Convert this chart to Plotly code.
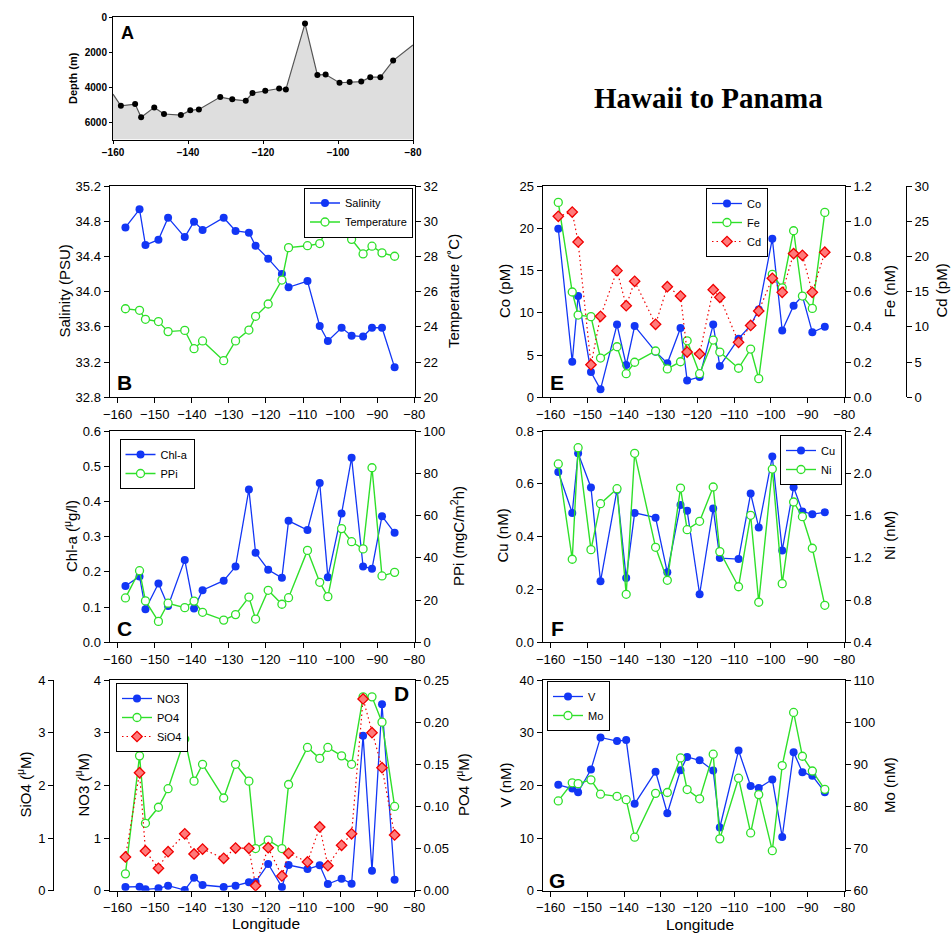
import plotly.graph_objects as go

W, H = 951, 934

# ---------------- data ----------------
lon = [-157.9, -154.1, -152.5, -149.0, -146.4, -141.9, -139.4, -137.1, -131.4, -128.2,
       -124.6, -122.8, -119.4, -115.7, -113.9, -108.8, -105.5, -103.3, -99.6, -96.9,
       -93.8, -91.4, -88.7, -85.3]
depth = [5070, 4970, 5730, 5160, 5540, 5600, 5330, 5280, 4570, 4700, 4780, 4340, 4210, 4080,
         4130, 360, 3300, 3280, 3750, 3710, 3680, 3430, 3430, 2480]
bathy_edge_lon = [-160, -80]
bathy_edge_depth = [4400, 1580]
depth_floor = 7000

salinity = [34.73, 34.935, 34.53, 34.59, 34.84, 34.62, 34.795, 34.70, 34.84, 34.69, 34.67, 34.52,
            34.375, 34.20, 34.05, 34.12, 33.61, 33.44, 33.59, 33.50, 33.49, 33.59, 33.59, 33.14]
temperature = [25.03, 24.94, 24.43, 24.30, 23.73, 23.80, 22.76, 23.20, 22.08, 23.20, 23.82, 24.60,
               25.30, 26.66, 28.50, 28.61, 28.73, 29.69, 29.45, 28.97, 28.14, 28.58, 28.20, 28.01]
chla = [0.160, 0.187, 0.094, 0.167, 0.103, 0.234, 0.096, 0.148, 0.175, 0.215, 0.434, 0.254,
        0.206, 0.183, 0.345, 0.319, 0.452, 0.185, 0.366, 0.524, 0.215, 0.209, 0.358, 0.311]
ppi = [21.0, 33.9, 19.6, 9.9, 18.5, 16.4, 19.5, 14.2, 10.5, 13.1, 21.4, 11.0, 24.6, 18.0, 21.1,
       43.5, 28.4, 21.6, 53.8, 47.6, 44.2, 82.6, 31.4, 33.1]
no3 = [0.07, 0.076, 0.026, 0.045, 0.095, 0.013, 0.247, 0.108, 0.07, 0.095, 0.16, 0.165, 0.507,
       0.07, 0.488, 0.412, 0.482, 0.127, 0.228, 0.133, 2.94, 0.38, 3.54, 0.209]
po4 = [0.020, 0.160, 0.080, 0.099, 0.121, 0.180, 0.130, 0.150, 0.110, 0.150, 0.130, 0.050, 0.060,
       0.050, 0.126, 0.170, 0.157, 0.170, 0.160, 0.150, 0.230, 0.230, 0.200, 0.100]
sio4 = [0.64, 2.24, 0.754, 0.425, 0.74, 1.08, 0.697, 0.79, 0.615, 0.81, 0.805, 0.095, 0.816, 0.28,
        0.71, 0.545, 1.21, 0.475, 0.862, 1.08, 3.64, 3.0, 2.335, 1.058]
co = [19.95, 4.2, 11.98, 3.0, 0.94, 8.6, 3.82, 8.43, 5.4, 4.02, 8.2, 2.0, 2.4, 8.6, 3.7, 6.94,
      8.5, 10.4, 18.77, 7.9, 10.84, 11.98, 7.69, 8.35]
fe = [1.107, 0.598, 0.467, 0.458, 0.223, 0.287, 0.134, 0.199, 0.263, 0.161, 0.202, 0.321, 0.134,
      0.325, 0.257, 0.165, 0.274, 0.106, 0.698, 0.622, 0.946, 0.575, 0.505, 1.05]
cd = [25.7, 26.3, 22.05, 4.63, 11.5, 17.98, 13.0, 16.47, 10.36, 15.7, 14.38, 6.43, 6.15, 15.28,
      14.2, 7.8, 10.2, 12.25, 16.9, 14.9, 20.4, 20.16, 14.9, 20.6]
cu = [0.645, 0.49, 0.716, 0.586, 0.231, 0.577, 0.243, 0.49, 0.472, 0.265, 0.52, 0.498, 0.182,
      0.507, 0.319, 0.315, 0.563, 0.435, 0.703, 0.348, 0.587, 0.495, 0.485, 0.492]
ni = [2.088, 1.186, 2.242, 1.277, 1.712, 1.854, 0.854, 2.189, 1.299, 0.987, 1.86, 1.466, 1.545,
      1.87, 1.258, 0.926, 1.602, 0.779, 2.04, 0.955, 1.728, 1.589, 1.29, 0.75]
v = [20.1, 19.4, 18.7, 23.0, 29.1, 28.4, 28.6, 16.5, 22.6, 14.7, 22.85, 25.4, 24.75, 22.8, 12.0,
     26.6, 19.9, 19.5, 21.1, 10.2, 26.3, 22.5, 21.8, 18.7]
mo = [81.3, 85.6, 85.4, 86.3, 82.9, 82.4, 81.6, 72.7, 83.1, 83.3, 91.5, 84.0, 81.8, 92.4, 72.3,
      86.7, 73.7, 82.8, 69.5, 89.7, 102.3, 91.9, 88.4, 84.05]

lon_ticks = [-160, -150, -140, -130, -120, -110, -100, -90, -80]
lon_ticks_a = [-160, -140, -120, -100, -80]

# ---------------- styles ----------------
FONT = "Arial, Liberation Sans, Helvetica, sans-serif"
BLUE = "#1236f5"
GREEN = "#2fe02a"
RED = "#f00000"

def px_x(p):
    return p / W

def px_y(p):
    return 1 - p / H

def blue_tr(x, y, name, xa, ya, lg):
    return go.Scatter(x=x, y=y, name=name, xaxis=xa, yaxis=ya, legend=lg, mode="lines+markers",
                      line=dict(color=BLUE, width=1.3),
                      marker=dict(symbol="circle", size=8, color=BLUE))

def green_tr(x, y, name, xa, ya, lg):
    return go.Scatter(x=x, y=y, name=name, xaxis=xa, yaxis=ya, legend=lg, mode="lines+markers",
                      line=dict(color=GREEN, width=1.4),
                      marker=dict(symbol="circle", size=8, color="white",
                                  line=dict(color=GREEN, width=1.3)))

def red_tr(x, y, name, xa, ya, lg):
    return go.Scatter(x=x, y=y, name=name, xaxis=xa, yaxis=ya, legend=lg, mode="lines+markers",
                      line=dict(color=RED, width=1.2, dash="1.5px,3px"),
                      marker=dict(symbol="diamond", size=8, color="#ff7a7a",
                                  line=dict(color=RED, width=1.3)))

fig = go.Figure()

# Panel A bathymetry
fig.add_trace(go.Scatter(x=bathy_edge_lon, y=[depth_floor, depth_floor], xaxis="x", yaxis="y",
                         mode="lines", line=dict(width=0), showlegend=False, hoverinfo="skip"))
fig.add_trace(go.Scatter(x=[bathy_edge_lon[0]] + lon + [bathy_edge_lon[1]],
                         y=[bathy_edge_depth[0]] + depth + [bathy_edge_depth[1]],
                         xaxis="x", yaxis="y", mode="lines", fill="tonexty",
                         fillcolor="#dedede", line=dict(color="#555555", width=1.2),
                         showlegend=False))
fig.add_trace(go.Scatter(x=lon, y=depth, xaxis="x", yaxis="y", mode="markers",
                         marker=dict(color="black", size=6), showlegend=False))

# Panel B
fig.add_trace(blue_tr(lon, salinity, "Salinity", "x2", "y2", "legend"))
fig.add_trace(green_tr(lon, temperature, "Temperature", "x2", "y3", "legend"))
# Panel C
fig.add_trace(blue_tr(lon, chla, "Chl-a", "x3", "y4", "legend2"))
fig.add_trace(green_tr(lon, ppi, "PPi", "x3", "y5", "legend2"))
# Panel D
fig.add_trace(blue_tr(lon, no3, "NO3", "x4", "y6", "legend3"))
fig.add_trace(green_tr(lon, po4, "PO4", "x4", "y7", "legend3"))
fig.add_trace(red_tr(lon, sio4, "SiO4", "x4", "y8", "legend3"))
# Panel E
fig.add_trace(blue_tr(lon, co, "Co", "x5", "y9", "legend4"))
fig.add_trace(green_tr(lon, fe, "Fe", "x5", "y10", "legend4"))
fig.add_trace(red_tr(lon, cd, "Cd", "x5", "y11", "legend4"))
# Panel F
fig.add_trace(blue_tr(lon, cu, "Cu", "x6", "y12", "legend5"))
fig.add_trace(green_tr(lon, ni, "Ni", "x6", "y13", "legend5"))
# Panel G
fig.add_trace(blue_tr(lon, v, "V", "x7", "y14", "legend6"))
fig.add_trace(green_tr(lon, mo, "Mo", "x7", "y15", "legend6"))

# ---------------- axes ----------------
tickfont = dict(family=FONT, size=13, color="black")
common = dict(showline=True, linecolor="black", linewidth=1, ticks="outside", ticklen=5,
              tickwidth=1, tickcolor="black", showgrid=False, zeroline=False,
              tickfont=tickfont, automargin=False)

LX = [px_x(109.5), px_x(415)]
RX = [px_x(542.5), px_x(845)]
ROW1 = [px_y(397.3), px_y(186)]
ROW2 = [px_y(642.3), px_y(431)]
ROW3 = [px_y(890.7), px_y(680)]
XR = [-162.2, -79.8]

layout_axes = {}
# Panel A
layout_axes["xaxis"] = dict(common, domain=[px_x(113), px_x(413)], anchor="y", range=[-160, -80],
                            tickvals=lon_ticks_a, mirror=True, ticklen=3,
                            tickfont=dict(family=FONT, size=10, color="black", weight="bold"))
layout_axes["yaxis"] = dict(common, domain=[px_y(139.5), px_y(17.3)], anchor="x",
                            range=[depth_floor, 0], tickvals=[0, 2000, 4000, 6000], mirror=True,
                            ticklen=3,
                            tickfont=dict(family=FONT, size=10, color="black", weight="bold"))

def xax(dom, ydom_anchor):
    return dict(common, domain=dom, anchor=ydom_anchor, range=XR, tickvals=lon_ticks, mirror=True)

layout_axes["xaxis2"] = xax(LX, "y2")
layout_axes["xaxis3"] = xax(LX, "y4")
layout_axes["xaxis4"] = xax(LX, "y6")
layout_axes["xaxis5"] = xax(RX, "y9")
layout_axes["xaxis6"] = xax(RX, "y12")
layout_axes["xaxis7"] = xax(RX, "y14")

# B
layout_axes["yaxis2"] = dict(common, domain=ROW1, anchor="x2", range=[32.8, 35.2], dtick=0.4,
                             tickformat=".1f")
layout_axes["yaxis3"] = dict(common, overlaying="y2", anchor="x2", side="right", range=[20, 32],
                             dtick=2)
# C
layout_axes["yaxis4"] = dict(common, domain=ROW2, anchor="x3", range=[0, 0.6], dtick=0.1,
                             tickformat=".1f")
layout_axes["yaxis5"] = dict(common, overlaying="y4", anchor="x3", side="right", range=[0, 100],
                             dtick=20)
# D
layout_axes["yaxis6"] = dict(common, domain=ROW3, anchor="x4", range=[0, 4], dtick=1)
layout_axes["yaxis7"] = dict(common, overlaying="y6", anchor="x4", side="right", range=[0, 0.25],
                             dtick=0.05, tickformat=".2f")
layout_axes["yaxis8"] = dict(common, overlaying="y6", anchor="free", position=px_x(53),
                             side="left", range=[0, 4], dtick=1)
# E
layout_axes["yaxis9"] = dict(common, domain=ROW1, anchor="x5", range=[0, 25], dtick=5)
layout_axes["yaxis10"] = dict(common, overlaying="y9", anchor="x5", side="right", range=[0, 1.2],
                              dtick=0.2, tickformat=".1f")
layout_axes["yaxis11"] = dict(common, overlaying="y9", anchor="free", position=px_x(906),
                              side="right", range=[0, 30], dtick=5)
# F
layout_axes["yaxis12"] = dict(common, domain=ROW2, anchor="x6", range=[0, 0.8], dtick=0.2,
                              tickformat=".1f")
layout_axes["yaxis13"] = dict(common, overlaying="y12", anchor="x6", side="right",
                              range=[0.4, 2.4], dtick=0.4, tickformat=".1f")
# G
layout_axes["yaxis14"] = dict(common, domain=ROW3, anchor="x7", range=[0, 40], dtick=10)
layout_axes["yaxis15"] = dict(common, overlaying="y14", anchor="x7", side="right",
                              range=[60, 110], dtick=10)

fig.update_layout(**layout_axes)

# ---------------- legends ----------------
def leg(xr, yt, anchor="right"):
    return dict(x=px_x(xr), y=px_y(yt), xanchor=anchor, yanchor="top", bgcolor="white",
                bordercolor="black", borderwidth=1, font=dict(family=FONT, size=11, color="black"),
                tracegroupgap=0, itemwidth=30, traceorder="normal")

fig.update_layout(
    legend=leg(413, 187.5),
    legend2=leg(119.5, 439, "left"),
    legend3=leg(116, 683, "left"),
    legend4=leg(706, 188, "left"),
    legend5=leg(842, 435),
    legend6=leg(547, 681, "left"),
)

# ---------------- text annotations ----------------
ann = []

def txt(x, y, s, size=15, angle=0, bold=False, family=FONT):
    ann.append(dict(x=px_x(x), y=px_y(y), xref="paper", yref="paper", text=s, showarrow=False,
                    textangle=angle, xanchor="center", yanchor="middle",
                    font=dict(family=family, size=size, color="black",
                              weight="bold" if bold else "normal")))

# panel letters
txt(127, 33, "A", size=18, bold=True)
txt(125, 382, "B", size=21, bold=True)
txt(125, 628, "C", size=21, bold=True)
txt(401, 693, "D", size=21, bold=True)
txt(557, 382, "E", size=21, bold=True)
txt(557, 628, "F", size=21, bold=True)
txt(557, 880, "G", size=21, bold=True)

# axis titles
txt(73, 78, "Depth (m)", size=11, angle=-90, bold=True)
txt(63.5, 291, "Salinity (PSU)", size=15, angle=-90)
txt(453, 291, "Temperature (˚C)", size=15, angle=-90)
txt(70, 536, "Chl-a (<sup>μ</sup>g/l)", size=15, angle=-90)
txt(457, 536, "PPi (mgC/m<sup>2</sup>h)", size=15, angle=-90)
txt(23.5, 785, "SiO4 (<sup>μ</sup>M)", size=15, angle=-90)
txt(81.5, 785, "NO3 (<sup>μ</sup>M)", size=15, angle=-90)
txt(462, 785, "PO4 (<sup>μ</sup>M)", size=15, angle=-90)
txt(266, 923, "Longitude", size=15.5)
txt(504, 291, "Co (pM)", size=15, angle=-90)
txt(888.5, 291, "Fe (nM)", size=15, angle=-90)
txt(940.5, 291, "Cd (pM)", size=15, angle=-90)
txt(501.5, 536, "Cu (nM)", size=15, angle=-90)
txt(889, 536, "Ni (nM)", size=15, angle=-90)
txt(504.5, 785, "V (nM)", size=15, angle=-90)
txt(889, 785, "Mo (nM)", size=15, angle=-90)
txt(700, 924, "Longitude", size=15.5)

# title
txt(708, 98, "Hawaii to Panama", size=29, bold=True,
    family="Liberation Serif, Times New Roman, serif")

fig.update_layout(
    annotations=ann,
    width=W, height=H,
    margin=dict(l=0, r=0, t=0, b=0),
    paper_bgcolor="white", plot_bgcolor="white",
    font=dict(family=FONT, color="black"),
    hovermode=False,
)

fig.write_html("out.html")
